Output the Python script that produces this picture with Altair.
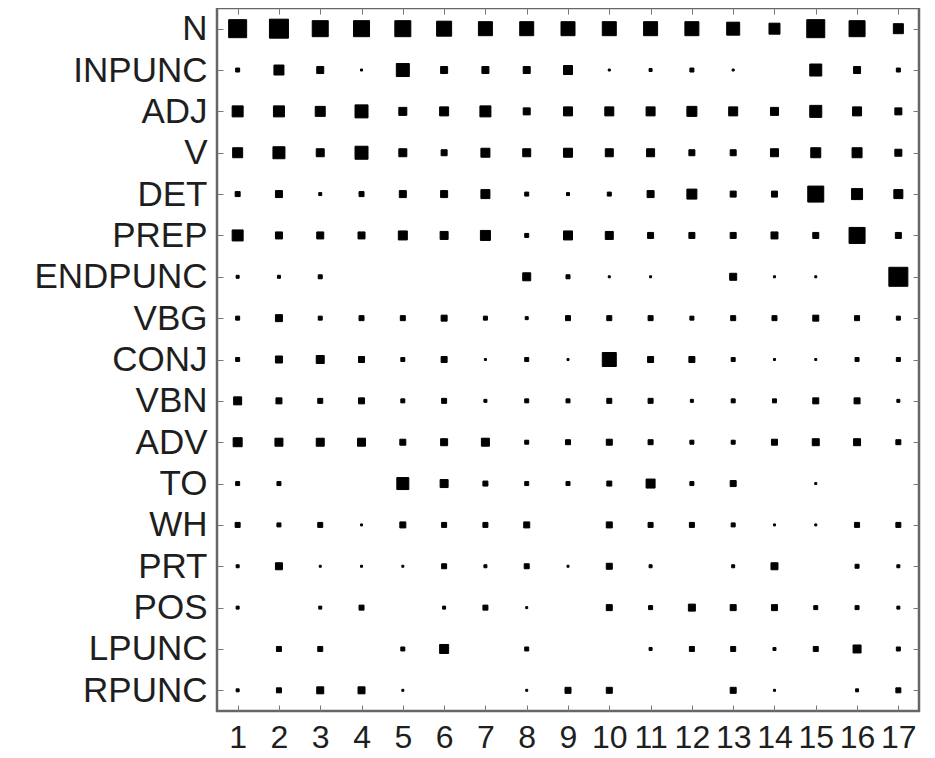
import altair as alt
import pandas as pd

tags = ["N", "INPUNC", "ADJ", "V", "DET", "PREP", "ENDPUNC", "VBG", "CONJ",
        "VBN", "ADV", "TO", "WH", "PRT", "POS", "LPUNC", "RPUNC"]
states = [str(i) for i in range(1, 18)]

# square side (relative magnitude) per tag, per state 1..17
N_vals       = [18, 19, 16, 16, 16, 15, 14, 14, 14, 14, 14, 14, 13, 11, 18, 16, 10]
INPUNC_vals  = [4, 10, 7, 2, 13, 7, 7, 7, 9, 2, 3, 4, 2, 0, 12, 7, 4]
ADJ_vals     = [11, 11, 10, 13, 8, 9, 11, 7, 9, 9, 9, 10, 9, 8, 12, 9, 7]
V_vals       = [10, 12, 8, 13, 8, 6, 9, 8, 9, 8, 8, 6, 6, 8, 10, 10, 7]
DET_vals     = [5, 7, 3, 5, 7, 7, 9, 4, 3, 4, 7, 10, 6, 6, 16, 11, 9]
PREP_vals    = [11, 7, 7, 7, 9, 8, 10, 4, 9, 8, 6, 6, 6, 7, 6, 16, 6]
ENDPUNC_vals = [3, 3, 4, 0, 0, 0, 0, 8, 4, 2, 2, 0, 7, 2, 2, 0, 19]
VBG_vals     = [4, 7, 4, 5, 5, 6, 4, 3, 5, 5, 5, 4, 5, 5, 6, 5, 4]
CONJ_vals    = [4, 7, 8, 6, 4, 6, 2, 4, 2, 14, 6, 6, 4, 2, 2, 4, 4]
VBN_vals     = [8, 6, 5, 6, 4, 5, 3, 4, 4, 5, 5, 3, 4, 4, 6, 6, 3]
ADV_vals     = [9, 8, 8, 8, 6, 7, 8, 4, 5, 6, 5, 4, 4, 6, 7, 7, 5]
TO_vals      = [4, 4, 0, 0, 12, 8, 5, 4, 4, 5, 9, 4, 6, 0, 2, 0, 0]
WH_vals      = [5, 4, 5, 2, 6, 5, 5, 6, 0, 6, 5, 5, 4, 2, 2, 5, 5]
PRT_vals     = [3, 7, 2, 2, 2, 5, 3, 5, 2, 6, 3, 0, 3, 7, 0, 4, 3]
POS_vals     = [3, 0, 3, 5, 0, 3, 5, 2, 0, 6, 4, 7, 6, 6, 4, 4, 3]
LPUNC_vals   = [0, 5, 5, 0, 4, 9, 0, 4, 0, 0, 3, 5, 5, 3, 5, 8, 4]
RPUNC_vals   = [3, 5, 7, 7, 2, 0, 0, 2, 6, 6, 0, 0, 6, 2, 0, 3, 5]

rows = [N_vals, INPUNC_vals, ADJ_vals, V_vals, DET_vals, PREP_vals, ENDPUNC_vals,
        VBG_vals, CONJ_vals, VBN_vals, ADV_vals, TO_vals, WH_vals, PRT_vals,
        POS_vals, LPUNC_vals, RPUNC_vals]

records = []
for tag, vals in zip(tags, rows):
    for st, v in zip(states, vals):
        records.append({"tag": tag, "state": st, "value": v})
df = pd.DataFrame(records)

FONT = "Liberation Sans"

x_scale = alt.Scale(type="point", padding=0.5, domain=states)
y_scale = alt.Scale(type="point", padding=0.5, domain=tags)

squares = alt.Chart(df).transform_filter("datum.value > 0").mark_point(
    shape="square", filled=True, color="black", opacity=1,
    stroke="black", strokeWidth=1
).encode(
    x=alt.X("state:O", scale=x_scale, sort=states,
            axis=alt.Axis(orient="bottom", title=None, offset=-6, tickSize=6,
                          labelPadding=11, labelAngle=0, labelFontSize=32,
                          labelFont=FONT, labelColor="#1e1e1e", domain=False,
                          tickColor="#777", tickWidth=1, grid=False)),
    y=alt.Y("tag:O", scale=y_scale, sort=tags,
            axis=alt.Axis(orient="left", title=None, offset=-6, tickSize=6,
                          labelPadding=10, labelFontSize=35, labelFont=FONT,
                          labelColor="#1e1e1e", domain=False, tickColor="#777",
                          tickWidth=1, grid=False)),
    size=alt.Size("value:Q", scale=alt.Scale(type="pow", exponent=2,
                                             domain=[0, 20], range=[0, 400]),
                  legend=None),
)

frame_axes = alt.Chart(df).mark_point(opacity=0).encode(
    x=alt.X("state:O", scale=x_scale, sort=states,
            axis=alt.Axis(orient="top", title=None, offset=-6, tickSize=6,
                          labels=False, domain=False, tickColor="#777",
                          tickWidth=1, grid=False)),
    y=alt.Y("tag:O", scale=y_scale, sort=tags,
            axis=alt.Axis(orient="right", title=None, offset=-6, tickSize=6,
                          labels=False, domain=False, tickColor="#777",
                          tickWidth=1, grid=False)),
)

chart = alt.layer(squares, frame_axes).resolve_axis(
    x="independent", y="independent"
).properties(
    width=702, height=703,
    autosize=alt.AutoSizeParams(type="none"),
    padding={"left": 209, "top": 0, "right": 8, "bottom": 47},
).configure_view(
    stroke="#666", strokeWidth=2.5
)

chart.save("out.html", embed_options={"renderer": "svg", "actions": False})
